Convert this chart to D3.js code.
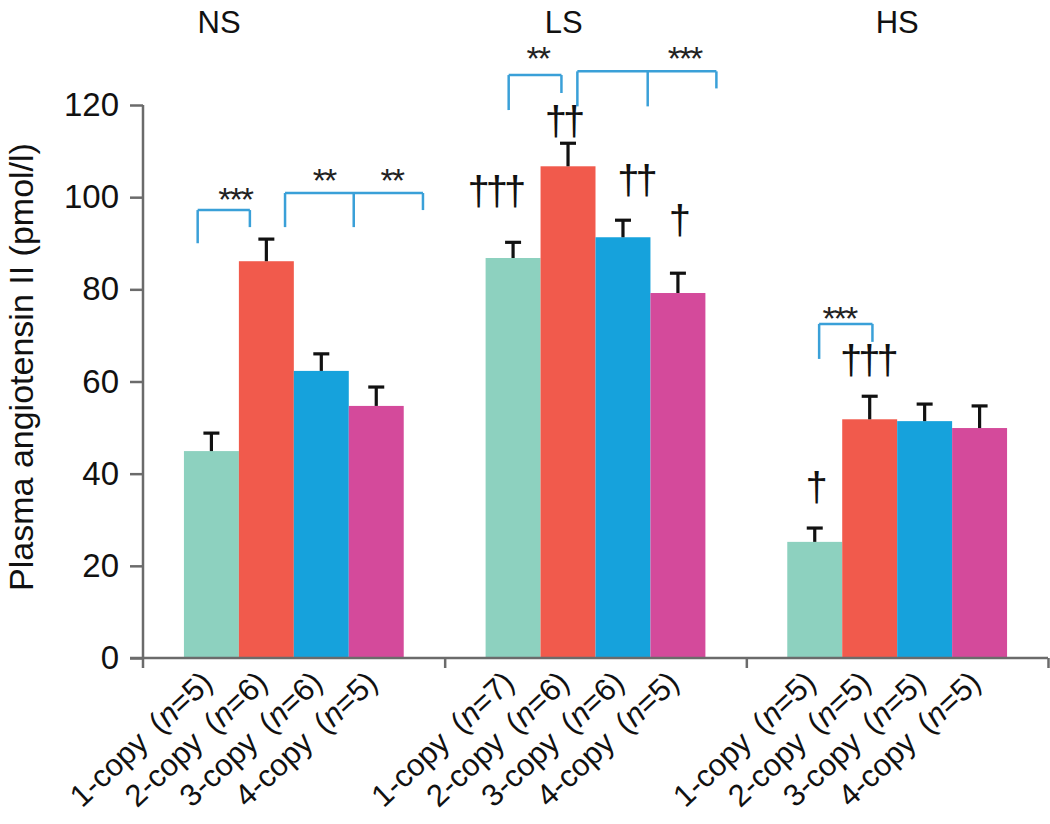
<!DOCTYPE html>
<html>
<head>
<meta charset="utf-8">
<script src="https://cdn.jsdelivr.net/npm/d3@7"></script>
<style>
  body { margin: 0; background: #fff; }
  svg { display: block; }
  text { font-family: "Liberation Sans", Arial, sans-serif; }
</style>
</head>
<body>
<svg id="chart" width="1050" height="824"></svg>
<script>
// ---------- data ----------
const groups = ["NS", "LS", "HS"];
const copies = ["1-copy", "2-copy", "3-copy", "4-copy"];
const nNS = [5, 6, 6, 5];
const nLS = [7, 6, 6, 5];
const nHS = [5, 5, 5, 5];
const meanNS = [44.9, 86.1, 62.3, 54.7];
const meanLS = [86.8, 106.7, 91.3, 79.2];
const meanHS = [25.2, 51.8, 51.4, 49.9];
const semNS = [3.9, 4.8, 3.7, 4.1];
const semLS = [3.4, 5.0, 3.7, 4.3];
const semHS = [3.0, 5.0, 3.7, 4.8];
const yTicks = [0, 20, 40, 60, 80, 100, 120];
const barColors = ["#8dd1bf", "#f15a4c", "#16a2dc", "#d44a9b"];

// significance brackets: x in bar-index units within group, y in data units
const brackets = [
  { g: 0, xs: [0.25, 1.2], top: 97.2, ends: [90.0, 93.5] },
  { g: 0, xs: [1.84, 3.09, 4.35], top: 100.9, ends: [93.5, 93.5, 97.2] },
  { g: 1, xs: [0.42, 1.38], top: 126.5, ends: [118.9, 122.6] },
  { g: 1, xs: [1.67, 2.95, 4.2], top: 127.3, ends: [119.7, 119.7, 123.6] },
  { g: 2, xs: [0.58, 1.55], top: 72.5, ends: [64.9, 68.6] }
];
const stars = [
  { g: 0, x: 0.93, y: 101, t: "***" },
  { g: 0, x: 2.55, y: 105, t: "**" },
  { g: 0, x: 3.78, y: 105, t: "**" },
  { g: 1, x: 0.95, y: 131.5, t: "**" },
  { g: 1, x: 3.62, y: 131.5, t: "***" },
  { g: 2, x: 0.95, y: 75, t: "***" }
];
const daggers = [
  { g: 1, x: 0.17, y: 100.6, t: "†††" },
  { g: 1, x: 1.41, y: 115.8, t: "††" },
  { g: 1, x: 2.73, y: 103, t: "††" },
  { g: 1, x: 3.5, y: 94.4, t: "†" },
  { g: 2, x: 0.5, y: 36.4, t: "†" },
  { g: 2, x: 1.46, y: 64, t: "†††" }
];
const groupLabelPos = [0.64, 1.42, 2.0];

const means = [meanNS, meanLS, meanHS];
const sems = [semNS, semLS, semHS];
const ns = [nNS, nLS, nHS];

// ---------- layout ----------
const svg = d3.select("#chart");
const x0 = 143, x1 = 1048, yTop = 105, yBot = 658;
const y = d3.scaleLinear().domain([0, 120]).range([yBot, yTop]);
const gx = d3.scaleBand().domain(groups).range([x0, x1]).padding(0);
const bx = d3.scaleBand().domain(d3.range(4)).range([0, gx.bandwidth()])
  .paddingInner(0).paddingOuter(0.745);
const fx = (g, f) => gx(groups[g]) + bx(0) + f * bx.bandwidth();

const data = [];
groups.forEach((gName, gi) => copies.forEach((c, ci) => {
  data.push({ g: gi, c: ci, mean: means[gi][ci], sem: sems[gi][ci], n: ns[gi][ci] });
}));

// bars
svg.append("g").selectAll("rect").data(data).join("rect")
  .attr("x", d => gx(groups[d.g]) + bx(d.c))
  .attr("width", bx.bandwidth())
  .attr("y", d => y(d.mean))
  .attr("height", d => y(0) - y(d.mean))
  .attr("fill", d => barColors[d.c]);

// error bars
const eb = svg.append("g").attr("stroke", "#111").attr("stroke-width", 3.2);
data.forEach(d => {
  const cx = gx(groups[d.g]) + bx(d.c) + bx.bandwidth() / 2;
  eb.append("line").attr("x1", cx).attr("x2", cx)
    .attr("y1", y(d.mean)).attr("y2", y(d.mean + d.sem));
  eb.append("line").attr("x1", cx - 8).attr("x2", cx + 8)
    .attr("y1", y(d.mean + d.sem)).attr("y2", y(d.mean + d.sem));
});

// axes
const axisColor = "#6b6b6b";
const yAxis = svg.append("g").attr("transform", `translate(${x0},0)`)
  .call(d3.axisLeft(y).tickValues(yTicks).tickSize(13).tickSizeOuter(0).tickPadding(11));
yAxis.select(".domain").remove();
yAxis.selectAll(".tick line").attr("stroke", axisColor).attr("stroke-width", 2.5);
yAxis.selectAll(".tick text").attr("font-size", 33).attr("fill", "#111")
  .attr("font-family", "'Liberation Sans', Arial, sans-serif");
svg.append("line").attr("x1", x0).attr("x2", x0).attr("y1", yTop).attr("y2", yBot + 10)
  .attr("stroke", axisColor).attr("stroke-width", 2.5);

const gb = d3.scaleLinear().domain([0, 3]).range([x0, x1]);
const xAxis = svg.append("g").attr("transform", `translate(0,${yBot})`)
  .call(d3.axisBottom(gb).tickValues([1, 2, 3]).tickSize(10).tickSizeOuter(0).tickFormat(""));
xAxis.select(".domain").remove();
xAxis.selectAll(".tick line").attr("stroke", axisColor).attr("stroke-width", 2.5);
svg.append("line").attr("x1", x0 - 13).attr("x2", x1).attr("y1", yBot).attr("y2", yBot)
  .attr("stroke", axisColor).attr("stroke-width", 2.5);

// x labels
const lab = svg.append("g");
data.forEach(d => {
  const cx = gx(groups[d.g]) + bx(d.c) + bx.bandwidth() / 2;
  const t = lab.append("text")
    .attr("transform", `translate(${cx + 3},${yBot + 27}) rotate(-43)`)
    .attr("text-anchor", "end").attr("font-size", 31).attr("fill", "#111");
  t.append("tspan").text(copies[d.c] + " \u2009(");
  t.append("tspan").attr("font-style", "italic").text("n");
  t.append("tspan").text("=" + d.n + ")");
});

// y label
svg.append("text")
  .attr("transform", `translate(33,367) rotate(-90)`)
  .attr("text-anchor", "middle").attr("font-size", 34).attr("fill", "#111")
  .text("Plasma angiotensin II (pmol/l)");

// group labels
groups.forEach((gName, gi) => {
  svg.append("text").attr("x", fx(gi, groupLabelPos[gi])).attr("y", 33)
    .attr("text-anchor", "middle").attr("font-size", 31).attr("fill", "#111").text(gName);
});

// brackets
const bracketColor = "#3aa0d8";
const bg = svg.append("g").attr("fill", "none").attr("stroke", bracketColor)
  .attr("stroke-width", 2.5).attr("stroke-linejoin", "round");
brackets.forEach(b => {
  const xsPx = b.xs.map(f => fx(b.g, f));
  bg.append("line").attr("x1", xsPx[0]).attr("x2", xsPx[xsPx.length - 1])
    .attr("y1", y(b.top)).attr("y2", y(b.top));
  xsPx.forEach((xp, i) => {
    bg.append("line").attr("x1", xp).attr("x2", xp)
      .attr("y1", y(b.top)).attr("y2", y(b.ends[i]));
  });
});

// stars
stars.forEach(s => {
  svg.append("text").attr("x", fx(s.g, s.x)).attr("y", y(s.y) + 18)
    .attr("text-anchor", "middle").attr("font-size", 34).attr("letter-spacing", -2)
    .attr("font-family", "'DejaVu Sans', sans-serif")
    .attr("fill", "#222").text(s.t);
});

// daggers
daggers.forEach(s => {
  svg.append("text").attr("x", fx(s.g, s.x)).attr("y", y(s.y) + 11)
    .attr("text-anchor", "middle").attr("font-size", 40)
    .attr("font-family", "'Liberation Serif', 'Times New Roman', serif")
    .attr("letter-spacing", -4)
    .attr("fill", "#111").text(s.t);
});
</script>
</body>
</html>
